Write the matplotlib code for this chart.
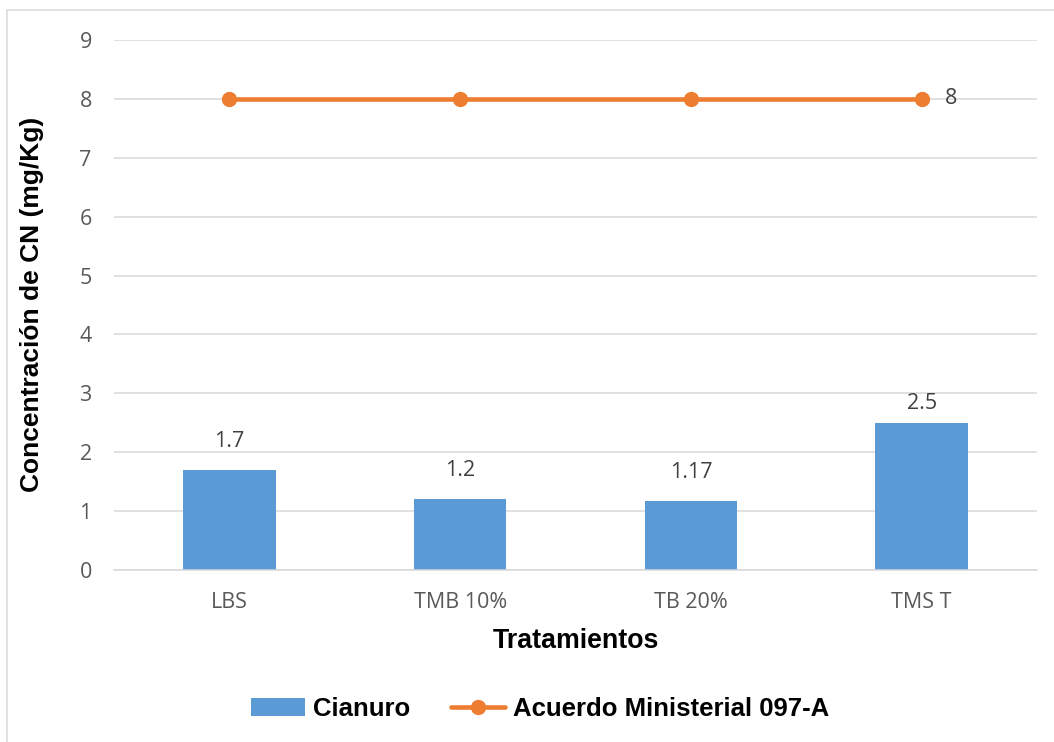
"""Cianuro concentration per treatment vs. regulatory limit."""

import matplotlib.pyplot as plt
from matplotlib.patches import Rectangle

# Data
tratamientos = ["LBS", "TMB 10%", "TB 20%", "TMS T"]
cianuro = [1.7, 1.2, 1.17, 2.5]
limite = [8, 8, 8, 8]
cianuro_labels = ["1.7", "1.2", "1.17", "2.5"]

# Styling
BLUE = "#5B9BD5"
ORANGE = "#ED7D31"
GRID = "#D9D9D9"
TICK_COLOR = "#595959"
LABEL_COLOR = "#404040"
TICK_FONT = "Open Sans"
BOLD_FONT = "Liberation Sans"

W, H, DPI = 1054, 742, 100
fig = plt.figure(figsize=(W / DPI, H / DPI), dpi=DPI)
ax = fig.add_axes([114 / W, 1 - 570 / H, 923 / W, 530 / H])

x = list(range(len(tratamientos)))

# Bars and line
bars = ax.bar(x, cianuro, width=0.4, color=BLUE, zorder=2, label="Cianuro")
line, = ax.plot(x, limite, color=ORANGE, linewidth=3.3, marker="o", markersize=10,
                zorder=3, label="Acuerdo Ministerial 097-A", solid_capstyle="round")

# Data labels above the bars (offset in points)
label_offsets = [13, 13, 13, 6.5]
for xi, val, txt, off in zip(x, cianuro, cianuro_labels, label_offsets):
    ax.annotate(txt, (xi, val), xytext=(0, off), textcoords="offset points",
                ha="center", va="bottom", fontsize=15.5, family=TICK_FONT,
                color=LABEL_COLOR)

# Label for the last point of the line
ax.annotate(str(limite[-1]), (x[-1], limite[-1]), xytext=(17, 0),
            textcoords="offset points", ha="left", va="center",
            fontsize=15.5, family=TICK_FONT, color=LABEL_COLOR)

# Axes
ax.set_xlim(-0.5, len(tratamientos) - 0.5)
ax.set_ylim(0, 9)
ax.set_yticks(range(0, 10))
ax.set_xticks(x)
ax.set_xticklabels(tratamientos)
ax.tick_params(axis="both", length=0, labelsize=15.5, labelcolor=TICK_COLOR)
ax.tick_params(axis="y", pad=16)
ax.tick_params(axis="x", pad=16)
for lbl in ax.get_xticklabels() + ax.get_yticklabels():
    lbl.set_family(TICK_FONT)

ax.grid(axis="y", color=GRID, linewidth=1.1, zorder=0)
ax.set_axisbelow(True)
for side in ["top", "right", "left"]:
    ax.spines[side].set_visible(False)
ax.spines["bottom"].set_color(GRID)
ax.spines["bottom"].set_linewidth(1.1)

ax.set_xlabel("Tratamientos", fontsize=19.3, fontweight="bold",
              family=BOLD_FONT, labelpad=11)
ax.set_ylabel("Concentración de CN (mg/Kg)", fontsize=19, fontweight="bold",
              family=BOLD_FONT)
ax.yaxis.set_label_coords(44 / W, 1 - 304 / H, transform=fig.transFigure)

# Legend
fig.legend(handles=[bars, line], loc="center",
           bbox_to_anchor=(540 / W, 1 - 709 / H), ncol=2, frameon=False,
           prop={"family": BOLD_FONT, "weight": "bold", "size": 18.5},
           handlelength=2.1, handletextpad=0.3, columnspacing=1.6)

# Outer chart border (partly cut off in the reference)
fig.patches.append(Rectangle((7 / W, -0.1), 2, 1 - 10 / H + 0.1,
                             transform=fig.transFigure, fill=False,
                             edgecolor=GRID, linewidth=1.1))

fig.savefig("out.png", dpi=DPI)
plt.close(fig)
